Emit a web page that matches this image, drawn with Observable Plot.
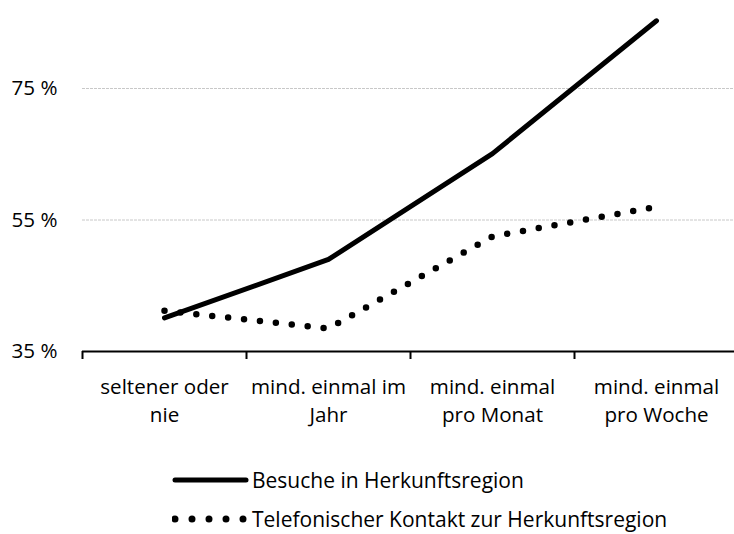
<!DOCTYPE html>
<html><head><meta charset="utf-8">
<script src="https://cdn.jsdelivr.net/npm/d3@7"></script>
<script src="https://cdn.jsdelivr.net/npm/@observablehq/plot@0.6"></script>
<style>
body{margin:0;background:#fff;font-family:"Open Sans",sans-serif;color:#000;width:734px;height:534px;overflow:hidden}
#legend{padding-top:28px;padding-left:172px;font-size:21px;line-height:24px}
.row{display:flex;align-items:center;height:24px}
.row + .row{margin-top:15px}
.row svg{display:block}
</style></head><body>
<div id="chart"></div>
<div id="legend"></div>
<script>
const categories = ["seltener oder nie", "mind. einmal im Jahr", "mind. einmal pro Monat", "mind. einmal pro Woche"];
const tickLabels = ["seltener oder\nnie", "mind. einmal im\nJahr", "mind. einmal\npro Monat", "mind. einmal\npro Woche"];
const seriesNames = ["Besuche in Herkunftsregion", "Telefonischer Kontakt zur Herkunftsregion"];
const besuche = [40.1, 49.0, 65.1, 85.3];
const telefon = [41.2, 38.5, 52.5, 57.0];
const yTicks = [35, 55, 75];

const pos = categories.map((c, i) => i + 0.5);
const bounds = d3.range(categories.length + 1);
const dataB = categories.map((c, i) => ({x: pos[i], v: besuche[i]}));
const dataT = categories.map((c, i) => ({x: pos[i], v: telefon[i]}));

const chart = Plot.plot({
  width: 734, height: 440,
  marginLeft: 82, marginRight: -4, marginTop: 88, marginBottom: 89,
  x: {domain: [0, categories.length], axis: null},
  y: {domain: [35, 75], axis: null},
  style: {fontFamily: "Open Sans", fontSize: "20.6px", color: "#000", background: "#fff", overflow: "visible"},
  marks: [
    Plot.gridY(yTicks.slice(1), {stroke: "#c8c8c8", strokeOpacity: 1, strokeWidth: 1, strokeDasharray: "3 1"}),
    Plot.axisY(yTicks, {tickSize: 0, tickPadding: 25, label: null, tickFormat: d => d + " %", fontSize: 20.6}),
    Plot.ruleY([35], {stroke: "#000", strokeWidth: 2}),
    Plot.ruleX(bounds, {y1: 35, y2: 35, insetBottom: -8, stroke: "#000", strokeWidth: 2}),
    Plot.axisX(pos, {tickSize: 0, tickPadding: 22, label: null, fontSize: 20.6, lineHeight: 1.38,
      tickFormat: d => tickLabels[Math.floor(d)]}),
    Plot.line(dataB, {x: "x", y: "v", stroke: "#000", strokeWidth: 5, strokeLinecap: "round"}),
    Plot.line(dataT, {x: "x", y: "v", stroke: "#000", strokeWidth: 6.5,
      strokeDasharray: "0 16", strokeLinecap: "round"})
  ]
});
document.getElementById("chart").appendChild(chart);

const legend = document.getElementById("legend");
legend.innerHTML = `
<div class="row"><svg width="80" height="24"><line x1="3" x2="74" y1="12" y2="12" stroke="#000" stroke-width="5" stroke-linecap="round"/></svg><span>${seriesNames[0]}</span></div>
<div class="row"><svg width="80" height="24"><line x1="3" x2="72" y1="12" y2="12" stroke="#000" stroke-width="7" stroke-linecap="round" stroke-dasharray="0 17"/></svg><span>${seriesNames[1]}</span></div>`;
</script>
</body></html>
